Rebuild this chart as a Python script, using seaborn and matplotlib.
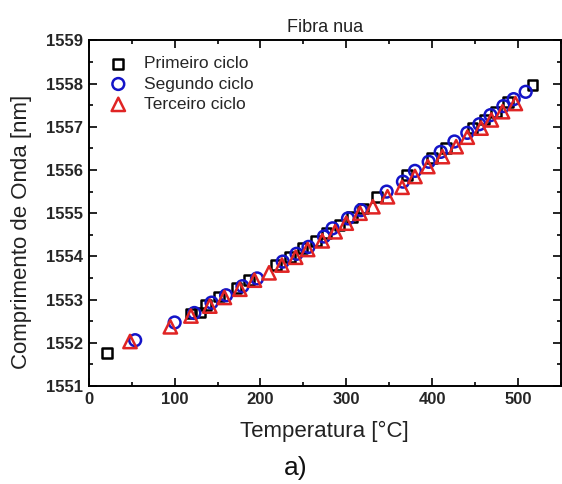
import matplotlib
matplotlib.use("Agg")
import matplotlib.pyplot as plt
from matplotlib.ticker import MultipleLocator
import seaborn as sns
import pandas as pd

# Temperature (°C) and Bragg wavelength (nm) for each heating cycle
temp_c1 = [21, 119, 130, 137, 152, 172, 187, 218, 234, 249, 265, 277, 292, 307,
           319, 336, 371, 400, 416, 447, 461, 474, 488, 517]
wl_c1 = [1551.76, 1552.68, 1552.70, 1552.87, 1553.07, 1553.26, 1553.45, 1553.80,
         1553.99, 1554.19, 1554.36, 1554.55, 1554.73, 1554.92, 1555.11, 1555.38,
         1555.88, 1556.27, 1556.50, 1556.97, 1557.17, 1557.35, 1557.58, 1557.97]

temp_c2 = [54, 100, 123, 143, 160, 179, 196, 226, 242, 256, 274, 284, 302, 317,
           347, 366, 380, 396, 410, 426, 441, 455, 468, 483, 495, 509]
wl_c2 = [1552.06, 1552.47, 1552.69, 1552.93, 1553.10, 1553.31, 1553.49, 1553.88,
         1554.06, 1554.22, 1554.46, 1554.65, 1554.88, 1555.07, 1555.50, 1555.73,
         1555.98, 1556.19, 1556.42, 1556.66, 1556.86, 1557.06, 1557.27, 1557.48,
         1557.64, 1557.81]

temp_c3 = [48, 95, 119, 141, 158, 176, 193, 210, 225, 241, 255, 272, 287, 300,
           316, 331, 348, 365, 380, 395, 412, 428, 441, 457, 469, 482, 497]
wl_c3 = [1552.03, 1552.37, 1552.62, 1552.85, 1553.05, 1553.24, 1553.45, 1553.62,
         1553.80, 1553.98, 1554.16, 1554.36, 1554.57, 1554.77, 1555.00, 1555.15,
         1555.38, 1555.60, 1555.85, 1556.08, 1556.31, 1556.54, 1556.76, 1556.97,
         1557.16, 1557.35, 1557.54]

labels = ["Primeiro ciclo", "Segundo ciclo", "Terceiro ciclo"]
x_ticks = [0, 100, 200, 300, 400, 500]
y_ticks = [1551, 1552, 1553, 1554, 1555, 1556, 1557, 1558, 1559]

sns.set_theme(style="ticks")
plt.rcParams["font.family"] = ["Liberation Sans", "DejaVu Sans"]

fig = plt.figure(figsize=(5.62, 4.84), dpi=100)
ax = fig.add_axes([0.158, 0.2025, 0.84, 0.714])

series = [
    (temp_c1, wl_c1, labels[0], "s", "#000000", 50),
    (temp_c2, wl_c2, labels[1], "o", "#1414c8", 72),
    (temp_c3, wl_c3, labels[2], "^", "#e02424", 92),
]
for t, w, lab, mk, col, size in series:
    df = pd.DataFrame({"Temperatura": t, "Comprimento": w})
    sns.scatterplot(data=df, x="Temperatura", y="Comprimento", marker=mk, s=size,
                    facecolor="none", edgecolor=col, linewidth=1.8, label=lab,
                    ax=ax, zorder=3)

ax.set_xlim(0, 550)
ax.set_ylim(1551, 1559)
ax.set_xticks(x_ticks)
ax.set_yticks(y_ticks)
ax.xaxis.set_minor_locator(MultipleLocator(50))
ax.yaxis.set_minor_locator(MultipleLocator(0.5))
ax.tick_params(which="both", direction="in", top=True, right=True,
               color="black", width=1.2)
ax.tick_params(which="major", length=6, labelsize=12, pad=4)
ax.tick_params(which="minor", length=3)
for lbl in ax.get_xticklabels() + ax.get_yticklabels():
    lbl.set_fontweight("bold")
for sp in ax.spines.values():
    sp.set_color("black")
    sp.set_linewidth(1.4)

ax.set_title("Fibra nua", fontsize=13, pad=6, color="#222222")
ax.set_xlabel("Temperatura [°C]", fontsize=16, labelpad=10, color="#222222")
ax.set_ylabel("Comprimento de Onda [nm]", fontsize=16, color="#222222")
ax.yaxis.set_label_coords(-0.12, 0.445)
fig.text(0.527, 0.033, "a)", fontsize=19, ha="center", va="center", color="#111111")

leg = ax.legend(loc="upper left", frameon=False, fontsize=12.5, handletextpad=0.7,
                borderaxespad=0.5, borderpad=0.4, labelspacing=0.3,
                handlelength=1.6)

fig.savefig("out.png", dpi=100)
